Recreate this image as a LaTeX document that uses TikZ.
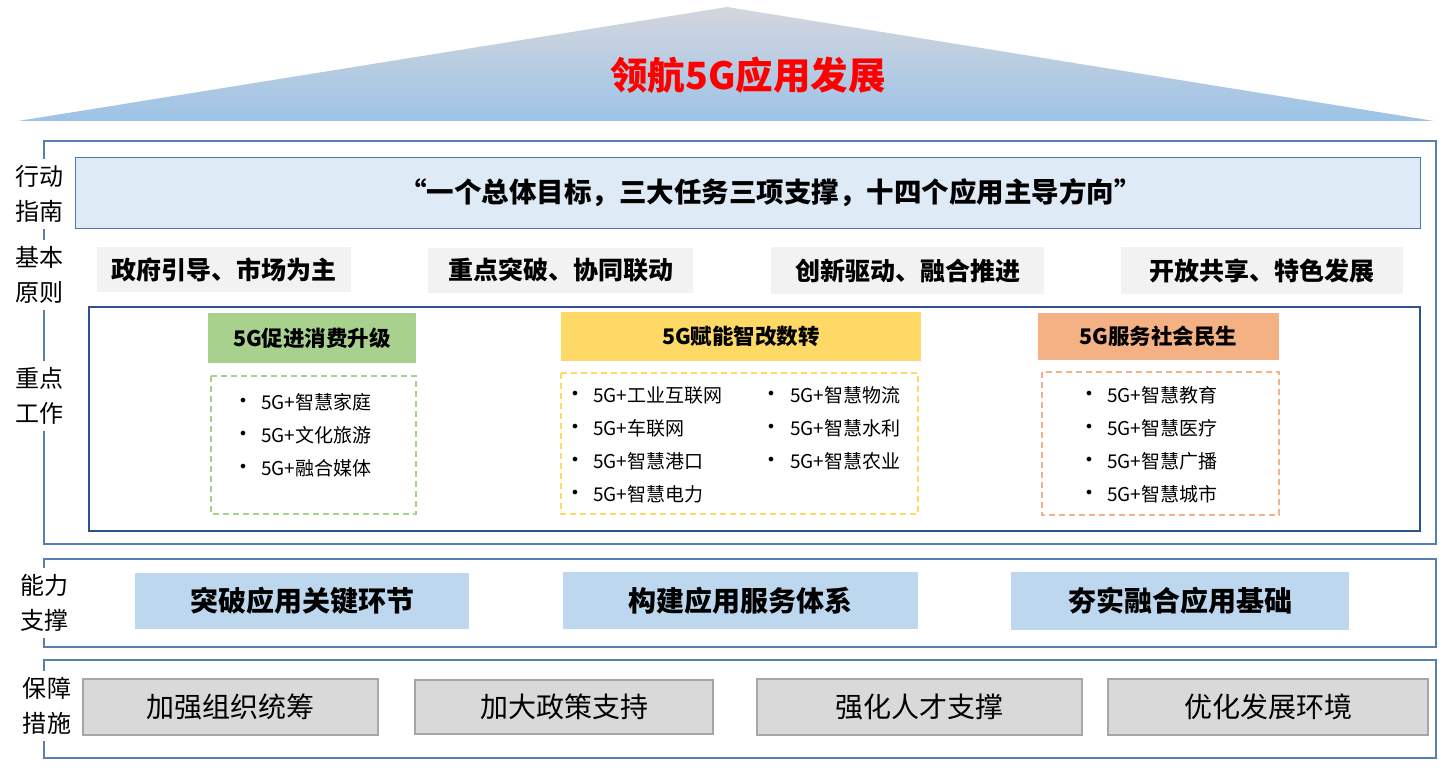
\documentclass[tikz,border=0pt]{standalone}
\usepackage{fontspec}
\setmainfont{Noto Sans CJK SC}
\newfontfamily\bulletfont{DejaVu Sans}
\definecolor{frameblue}{HTML}{5580B0}
\definecolor{darkblue}{HTML}{2F528F}
\definecolor{actfill}{HTML}{DEEAF6}
\definecolor{actline}{HTML}{4A78B0}
\definecolor{prinfill}{HTML}{F2F2F2}
\definecolor{greenc}{HTML}{A9D18E}
\definecolor{yellowc}{HTML}{FFD966}
\definecolor{orangec}{HTML}{F4B183}
\definecolor{capfill}{HTML}{BDD7EE}
\definecolor{gfill}{HTML}{D9D9D9}
\definecolor{gline}{HTML}{A6A6A6}
\definecolor{titlered}{HTML}{FF0000}
\definecolor{rooftop}{HTML}{D4D6DE}
\definecolor{roofbot}{HTML}{9DC3E6}
\begin{document}
\begin{tikzpicture}[x=1pt,y=-1pt,
  frame/.style={draw=frameblue,line width=2.5pt},
  sidelabel/.style={fill=white,align=center,inner xsep=1pt,inner ysep=6pt,font=\fontsize{24}{35}\selectfont},
  prin/.style={fill=prinfill,font=\bfseries\fontsize{25}{28}\selectfont},
  header/.style={font=\bfseries\fontsize{21.5}{24}\selectfont},
  dashbox/.style={line width=1.6pt,dash pattern=on 6pt off 4pt},
  item/.style={anchor=west,inner sep=0pt,font=\fontsize{19}{22}\selectfont},
  bul/.style={anchor=center,inner sep=0pt,font=\bulletfont\fontsize{16}{20}\selectfont},
  capbox/.style={fill=capfill,font=\bfseries\fontsize{28}{30}\selectfont},
  guard/.style={fill=gfill,draw=gline,line width=2pt,font=\fontsize{28}{30}\selectfont}]
\useasboundingbox (0,0) rectangle (1447,770);
% roof
\shade[top color=rooftop,bottom color=roofbot] (18,121) -- (727,7) -- (1434,121) -- cycle;
\node[text=titlered,font=\bfseries\fontsize{37.5}{40}\selectfont] (title) at (748,75) {领航5G应用发展};
% frames
\draw[frame] (44,141) rectangle (1436,544);
\draw[frame] (44,559) rectangle (1436,647);
\draw[frame] (44,660) rectangle (1436,758);
% action guide
\node[draw=actline,line width=1pt,fill=actfill,minimum width=1345,minimum height=70,
      font=\bfseries\fontsize{27.5}{30}\selectfont] (act) at (747.5,193) {\hspace*{46pt}“一个总体目标，三大任务三项支撑，十四个应用主导方向”};
% principles
\node[prin,minimum width=254,minimum height=45] (p1) at (224,269.5) {政府引导、市场为主};
\node[prin,minimum width=265,minimum height=45] (p2) at (560.5,270.5) {重点突破、协同联动};
\node[prin,minimum width=273,minimum height=47] (p3) at (907.5,270.5) {创新驱动、融合推进};
\node[prin,minimum width=282,minimum height=47] (p4) at (1262,270.5) {开放共享、特色发展};
% key work
\draw[darkblue,line width=2pt] (89,307) rectangle (1420,531);
\node[header,fill=greenc,minimum width=208,minimum height=50] (h1) at (312,338) {5G促进消费升级};
\draw[dashbox,draw=greenc] (211,376) rectangle (416,514);
\node[header,fill=yellowc,minimum width=360,minimum height=49] (h2) at (741,336.5) {5G赋能智改数转};
\draw[dashbox,draw=yellowc] (561,373) rectangle (918,514);
\node[header,fill=orangec,minimum width=241,minimum height=47] (h3) at (1158.5,336.5) {5G服务社会民生};
\draw[dashbox,draw=orangec] (1042,372) rectangle (1279,515);
% items green
\node[bul] (g1b) at (243,402) {•};
\node[item] (g1) at (261,402) {5G+智慧家庭};
\node[bul] (g2b) at (243,435) {•};
\node[item] (g2) at (261,435) {5G+文化旅游};
\node[bul] (g3b) at (243,468) {•};
\node[item] (g3) at (261,468) {5G+融合媒体};
% items yellow col 1
\node[bul] (y1b) at (575,395) {•};
\node[item] (y1) at (593,395) {5G+工业互联网};
\node[bul] (y2b) at (575,428) {•};
\node[item] (y2) at (593,428) {5G+车联网};
\node[bul] (y3b) at (575,461) {•};
\node[item] (y3) at (593,461) {5G+智慧港口};
\node[bul] (y4b) at (575,494) {•};
\node[item] (y4) at (593,494) {5G+智慧电力};
% items yellow col 2
\node[bul] (y5b) at (771,395) {•};
\node[item] (y5) at (790,395) {5G+智慧物流};
\node[bul] (y6b) at (771,428) {•};
\node[item] (y6) at (790,428) {5G+智慧水利};
\node[bul] (y7b) at (771,461) {•};
\node[item] (y7) at (790,461) {5G+智慧农业};
% items orange
\node[bul] (o1b) at (1089,395) {•};
\node[item] (o1) at (1107,395) {5G+智慧教育};
\node[bul] (o2b) at (1089,428) {•};
\node[item] (o2) at (1107,428) {5G+智慧医疗};
\node[bul] (o3b) at (1089,461) {•};
\node[item] (o3) at (1107,461) {5G+智慧广播};
\node[bul] (o4b) at (1089,494) {•};
\node[item] (o4) at (1107,494) {5G+智慧城市};
% capability support
\node[capbox,minimum width=334,minimum height=56] (c1) at (302,601) {突破应用关键环节};
\node[capbox,minimum width=355,minimum height=57] (c2) at (740.5,600.5) {构建应用服务体系};
\node[capbox,minimum width=338,minimum height=58] (c3) at (1180,601) {夯实融合应用基础};
% guarantee measures
\node[guard,minimum width=295,minimum height=56] (m1) at (230.5,707) {加强组织统筹};
\node[guard,minimum width=298,minimum height=54] (m2) at (564,707) {加大政策支持};
\node[guard,minimum width=325,minimum height=56] (m3) at (919.5,707) {强化人才支撑};
\node[guard,minimum width=320,minimum height=56] (m4) at (1268,707) {优化发展环境};
% side labels
\node[sidelabel] (l1) at (39,194) {行动\\指南};
\node[sidelabel] (l2) at (40,275) {基本\\原则};
\node[sidelabel] (l3) at (40,396) {重点\\工作};
\node[sidelabel] (l4) at (44,603) {能力\\支撑};
\node[sidelabel] (l5) at (47,706) {保障\\措施};
\end{tikzpicture}
\end{document}
